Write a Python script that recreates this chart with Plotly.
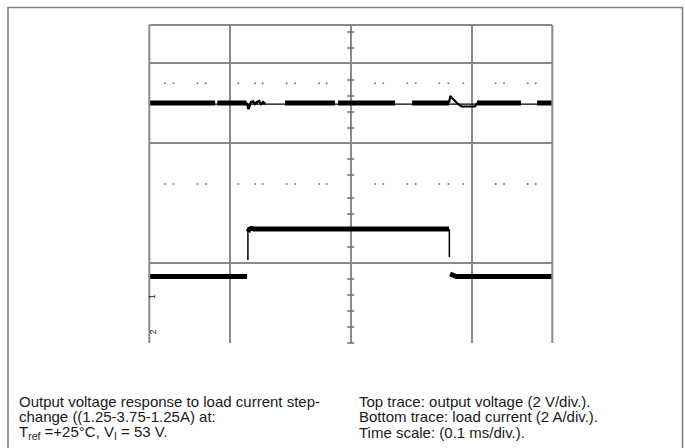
import plotly.graph_objects as go

W, H = 685, 448

# time axis in ms (0.1 ms per major division), vertical axis in scope divisions
x_range = [-0.1665, 0.1666]
y_range = [0, 7.95]
x_grid = [-0.1, 0, 0.1]
y_grid = [2, 5, 7]

# top trace: output voltage (thin baseline plus noisy band segments)
v_base = 5.97
v_band_x = [-0.1665, -0.1121, None, -0.1103, -0.0861, None, -0.0543, -0.0130, None,
            -0.0105, 0.0366, None, 0.0507, 0.0812, None, 0.1044, 0.1407, None, 0.1540, 0.1666]
v_band_y = [6.0 if x is not None else None for x in v_band_x]

# transient when the load steps up
v_up_x = [-0.0861, -0.0853, -0.0846, -0.0836, -0.0824, -0.0807, -0.0791, -0.0774,
          -0.0758, -0.0741, -0.0725, -0.0708]
v_up_y = [6.0, 5.95, 5.85, 5.925, 6.025, 6.0375, 5.975, 6.025, 6.05, 5.975, 6.025, 5.975]

# transient when the load steps down
v_dn_x = [0.0812, 0.0823, 0.0837, 0.0862, 0.0886, 0.0916, 0.0969, 0.1027, 0.1040, 0.1052]
v_dn_y = [6.0, 6.175, 6.125, 6.05, 5.975, 5.9125, 5.9125, 5.9125, 5.975, 6.0]

# bottom trace: load current (levels)
i_x = [-0.1665, -0.0857, None, -0.0849, -0.0838, -0.0820, -0.0800, 0.0812, None,
       0.0821, 0.0862, 0.0874, 0.1666]
i_y = [1.6625, 1.6625, None, 2.78, 2.845, 2.87, 2.85, 2.85, None,
       1.725, 1.70, 1.6625, 1.6625]
# fast edges of the current step (drawn thin)
edge_x = [-0.0850, -0.0850, None, 0.0815, 0.0815]
edge_y = [2.075, 2.80, None, 2.85, 2.15]

# faint dotted reference rows
dot_x = [-0.1535, -0.1466, -0.1268, -0.1198, -0.0929, -0.0791, -0.0727, -0.0529, -0.0460,
         -0.0262, -0.0198, 0.0201, 0.0269, 0.0468, 0.0537, 0.0732, 0.0807, 0.0931,
         0.1198, 0.1267, 0.1463, 0.1529]
dot_rows = [6.4925, 3.975]

# minor ticks on the centre graticule line
tick_y = [7.775, 7.375, 6.575, 6.175, 5.775, 5.375, 4.6, 4.2, 3.625, 3.225, 2.825,
          2.4, 1.6, 1.2, 0.8, 0.4, 0.0]

trig_x, trig_y = 0.1697, 7.0625

grid_col = "#8a8a8a"

fig = go.Figure()

for ry in dot_rows:
    fig.add_trace(go.Scatter(x=dot_x, y=[ry] * len(dot_x), mode="markers",
                             marker=dict(size=2, color="#7c7c7c", line_width=0)))

fig.add_trace(go.Scatter(x=[0] * len(tick_y), y=tick_y, mode="markers",
                         marker=dict(symbol="line-ew", size=5,
                                     line=dict(color="#6e6e6e", width=1.5)),
                         cliponaxis=False))

fig.add_trace(go.Scatter(x=x_range, y=[v_base, v_base], mode="lines",
                         line=dict(color="black", width=1.3)))
fig.add_trace(go.Scatter(x=v_band_x, y=v_band_y, mode="lines",
                         line=dict(color="black", width=4.8)))
fig.add_trace(go.Scatter(x=v_up_x, y=v_up_y, mode="lines",
                         line=dict(color="black", width=2.5)))
fig.add_trace(go.Scatter(x=v_dn_x, y=v_dn_y, mode="lines",
                         line=dict(color="black", width=2.2)))

fig.add_trace(go.Scatter(x=i_x, y=i_y, mode="lines",
                         line=dict(color="black", width=4.8)))
fig.add_trace(go.Scatter(x=edge_x, y=edge_y, mode="lines",
                         line=dict(color="black", width=1.5)))

fig.add_trace(go.Scatter(x=[trig_x], y=[trig_y], mode="markers", cliponaxis=False,
                         marker=dict(symbol="triangle-left", size=7, color="black")))

x0, x1 = 149.3 / W, 552.3 / W
y0, y1 = (H - 343) / H, (H - 25) / H

fig.update_xaxes(domain=[x0, x1], range=x_range, tickvals=x_grid, showticklabels=False,
                 showgrid=True, gridcolor=grid_col, gridwidth=1.6, zeroline=False, ticks="")
fig.update_yaxes(domain=[y0, y1], range=y_range, tickvals=y_grid, showticklabels=False,
                 showgrid=True, gridcolor=grid_col, gridwidth=1.6, zeroline=False, ticks="")

shapes = [
    # outer frame
    dict(type="rect", xref="paper", yref="paper", x0=8 / W, x1=682.5 / W, y0=-0.1,
         y1=(H - 7.5) / H, line=dict(color="#808080", width=1.6)),
    # graticule border (top, left, right)
    dict(type="line", xref="paper", yref="paper", x0=x0, x1=x1, y0=y1, y1=y1,
         line=dict(color=grid_col, width=2)),
    dict(type="line", xref="paper", yref="paper", x0=x0, x1=x0, y0=y0, y1=y1,
         line=dict(color=grid_col, width=2)),
    dict(type="line", xref="paper", yref="paper", x0=x1, x1=x1, y0=y0, y1=y1,
         line=dict(color=grid_col, width=2)),
]

left_lines = ["Output voltage response to load current step-",
              "change ((1.25-3.75-1.25A) at:",
              "T<sub>ref</sub> =+25°C, V<sub>I</sub> = 53 V."]
right_lines = ["Top trace: output voltage (2 V/div.).",
               "Bottom trace: load current (2 A/div.).",
               "Time scale: (0.1 ms/div.)."]
line_y = [401, 416.5, 432]
txt_font = dict(family="Liberation Sans, Arial", size=15, color="#1a1a1a")

annotations = []
for txt, py in zip(left_lines, line_y):
    annotations.append(dict(text=txt, x=17 / W, y=(H - py) / H, xref="paper", yref="paper",
                            xanchor="left", yanchor="middle", showarrow=False, font=txt_font))
for txt, py in zip(right_lines, line_y):
    annotations.append(dict(text=txt, x=357 / W, y=(H - py) / H, xref="paper", yref="paper",
                            xanchor="left", yanchor="middle", showarrow=False, font=txt_font))

# channel markers at the lower left edge
for lab, py in [("1", 297), ("2", 337)]:
    annotations.append(dict(text=lab, x=145 / W, y=(H - py) / H, xref="paper", yref="paper",
                            showarrow=False, textangle=-90,
                            font=dict(family="Liberation Sans", size=9, color="#222222")))

fig.update_layout(width=W, height=H, margin=dict(l=0, r=0, t=0, b=0),
                  paper_bgcolor="white", plot_bgcolor="white", showlegend=False,
                  shapes=shapes, annotations=annotations)

fig.write_html("out.html", config={"displayModeBar": False},
               post_script="document.body.style.margin='0';")
